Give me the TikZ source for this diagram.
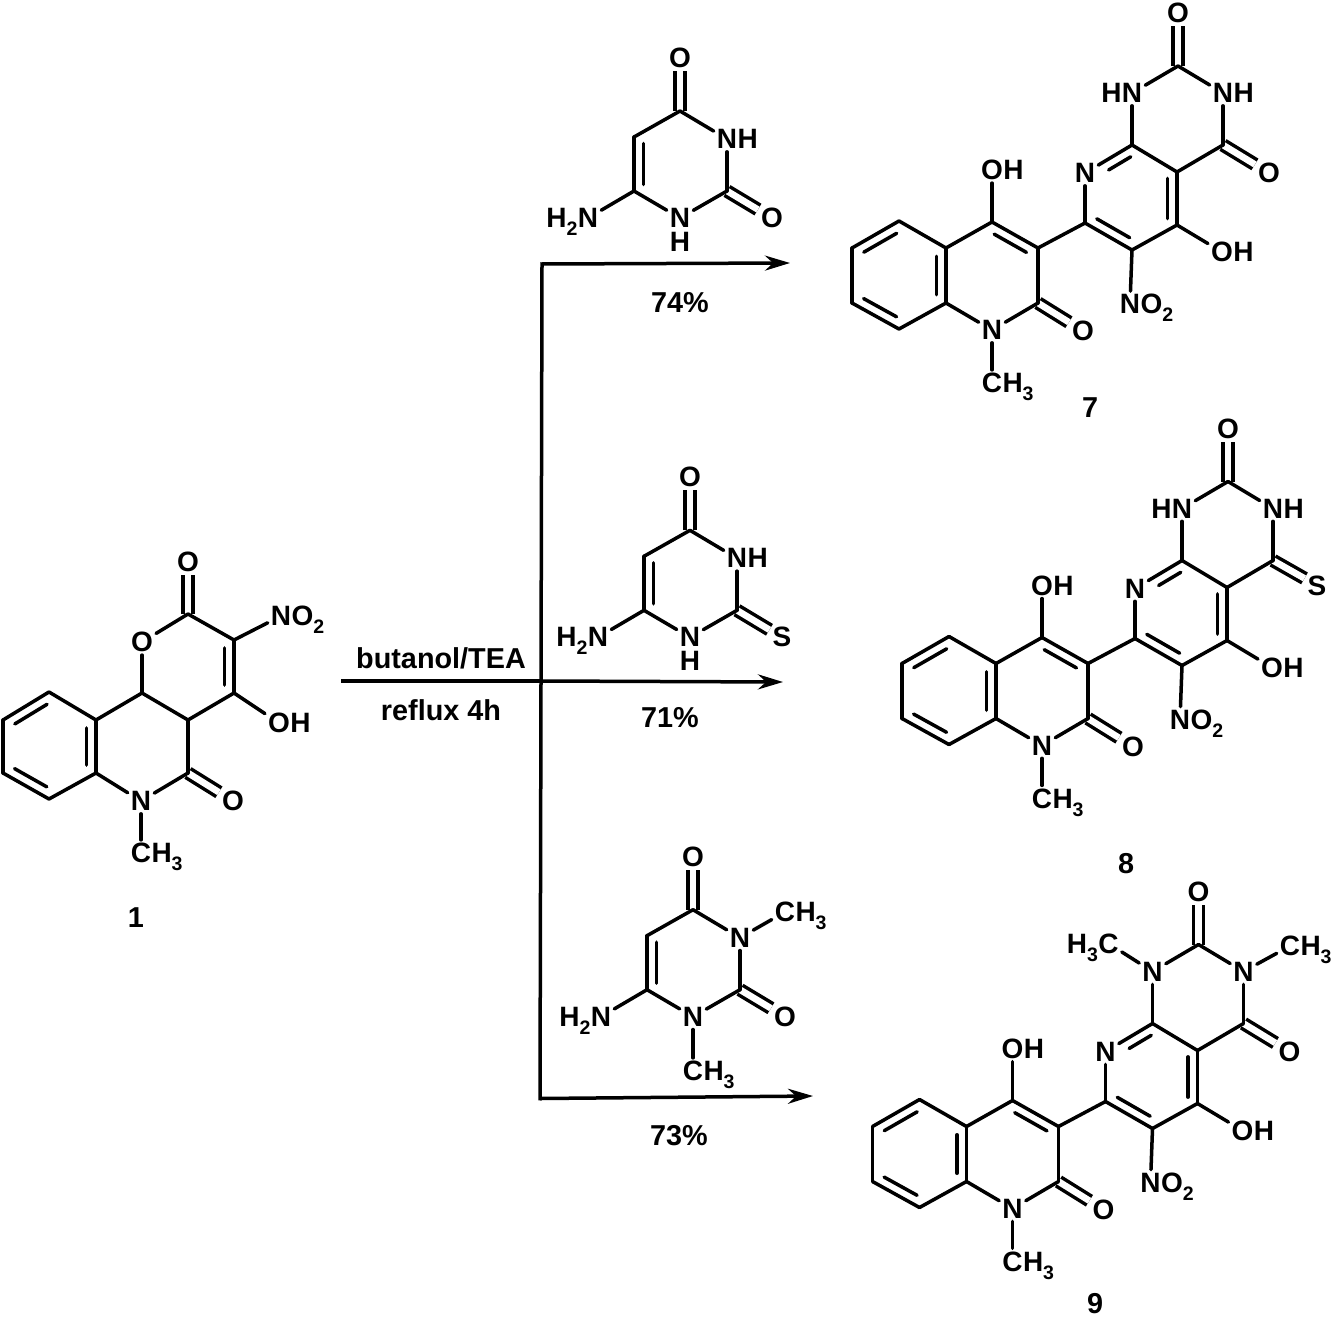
\documentclass[tikz,border=0pt]{standalone}
\usepackage{fontspec}
\setmainfont{Liberation Sans}
\usetikzlibrary{calc,arrows.meta}
\def\subs#1{\raisebox{-8pt}{\fontsize{19.5}{19.5}\selectfont #1}}
\begin{document}
\begin{tikzpicture}[x=1pt,y=-1pt,
    bond/.style={line width=3.5pt,line cap=round},
    dblbond/.style={line width=3.5pt,double,double distance=6.6pt},
    inner/.style={line width=3.5pt,line cap=round},
    atom/.style={inner sep=3pt,font=\fontsize{28}{30}\selectfont\bfseries},
    tailr/.style={inner sep=0pt,anchor=base west,xshift=-3pt,font=\fontsize{28}{30}\selectfont\bfseries},
    taill/.style={inner sep=0pt,anchor=base east,xshift=3pt,font=\fontsize{28}{30}\selectfont\bfseries},
    lab/.style={inner sep=0pt,font=\fontsize{28.8}{30}\selectfont\bfseries},
    rxn/.style={line width=3.5pt},
    rxnarrow/.style={line width=3.5pt,-{Stealth[length=25pt,width=15pt]}}]
  \useasboundingbox (0,0) rectangle (1335,1319);
  % compound 1
  \def\ringa{(49,692),(96,720),(96,773),(49,799),(3,773),(3,720),(142,693),(188,614),(234,640),(234,693),(188,720),(188,773)}
  %         1        2        3        4       5       6       7         8         9         10        11        12
  \foreach \u [count=\i from 1] in \ringa {\path \u coordinate (c\i);}
  \foreach \x/\y/\txt/\nm in {142/642/O/o1,188/562/O/o2,281/616/N/n1,279/723/O/o3,233/801/O/o4,141/801/N/n2,141/853/C/me}
    {\node[atom] (\nm) at (\x,\y) {\txt};}
  \node[tailr] (n1t) at (n1.base east) {O\subs{2}};
  \node[tailr] (o3t) at (o3.base east) {H};
  \node[tailr] (met) at (me.base east) {H\subs{3}};
  \draw[dblbond] (c8)--(o2);
  \draw[dblbond] (c12)--(o4);
  \foreach \a/\b in {c1/c2,c2/c3,c3/c4,c4/c5,c5/c6,c6/c1,c2/c7,c7/o1,o1/c8,c8/c9,c9/c10,c10/c11,c11/c7,c11/c12,c12/n2,n2/c3,c9/n1,c10/o3,n2/me}
    {\draw[bond] (\a)--(\b);}
  \foreach \a/\b in {c6/c1,c2/c3,c4/c5,c9/c10}
    {\draw[inner] ($(\a)!.15!(\b)!9.5pt!-90:(\b)$)--($(\a)!.85!(\b)!9.5pt!-90:(\b)$);}
  \node[lab] (lab1) at (136,918) {1};
  % uracils
  \foreach \m/\sx/\sy/\xa in {7/0/0/O,8/10/419.3/S,9/13/798.7/O} {
    \begin{scope}[shift={(\sx,\sy)}]
      \foreach \u [count=\i from 1] in {(680,111),(727,191),(634,191),(634,137)} {\path \u coordinate (u\m c\i);}
      \foreach \x/\y/\txt/\nm in {680/58/O/o1,727/139/N/n3,772/218/\xa/x,680/218/N/n1,588/218/N/na}
        {\node[atom] (u\m\nm) at (\x,\y) {\txt};}
    \end{scope}
    \node[taill] (u\m nat) at (u\m na.base west) {H\subs{2}};
    \draw[dblbond] (u\m c1)--(u\m o1);
    \draw[dblbond] (u\m c2)--(u\m x);
    \foreach \a/\b in {c1/n3,n3/c2,c2/n1,n1/c3,c3/c4,c4/c1,c3/na}
      {\draw[bond] (u\m\a)--(u\m\b);}
    \draw[inner] ($(u\m c3)!.12!(u\m c4)!9.5pt!-90:(u\m c4)$)--($(u\m c3)!.88!(u\m c4)!9.5pt!-90:(u\m c4)$);
  }
  \foreach \m in {7,8} {
    \node[tailr] (u\m n3t) at (u\m n3.base east) {H};
    \node[atom,inner sep=0pt] (u\m h) at ([yshift=-24pt]u\m n1) {H};
  }
  \node[atom] (u9me3) at (785,912) {C};
  \node[tailr] (u9me3t) at (u9me3.base east) {H\subs{3}};
  \node[atom] (u9me1) at (693,1071) {C};
  \node[tailr] (u9me1t) at (u9me1.base east) {H\subs{3}};
  \draw[bond] (u9n3)--(u9me3);
  \draw[bond] (u9n1)--(u9me1);
  % products
  \def\ringp{(899,221),(946,248),(946,303),(899,329),(852,303),(852,248),(992,222),(1038,248),(1038,303),(1085,223),(1132,250),(1177,225),(1177,172),(1132,145),(1223,145),(1178,66)}
  %         1         2         3         4         5         6         7         8          9          10         11         12         13         14         15         16
  \foreach \m/\sx/\sy/\xa/\xx/\xy in {7/0/0/O/1269/173,8/50/415.5/S/1267/170,9/20.5/878.5/O/1269/173} {
    \begin{scope}[shift={(\sx,\sy)}]
      \foreach \u [count=\i from 1] in \ringp {\path \u coordinate (p\m c\i);}
      \foreach \x/\y/\txt/\nm in {992/170/O/o1,992/330/N/n1,1083/331/O/o2,992/383/C/me,1085/173/N/n2,1222/252/O/o3,1130/304/N/n3,1132/93/N/n4,1223/93/N/n5,1178/13/O/o5,\xx/\xy/\xa/x}
        {\node[atom] (p\m\nm) at (\x,\y) {\txt};}
    \end{scope}
    \node[tailr] (p\m o1t) at (p\m o1.base east) {H};
    \node[tailr] (p\m o3t) at (p\m o3.base east) {H};
    \node[tailr] (p\m met) at (p\m me.base east) {H\subs{3}};
    \node[tailr] (p\m n3t) at (p\m n3.base east) {O\subs{2}};
    \draw[dblbond] (p\m c9)--(p\m o2);
    \draw[dblbond] (p\m c15)--(p\m x);
    \draw[dblbond] (p\m c16)--(p\m o5);
    \foreach \a/\b in {c1/c2,c2/c3,c3/c4,c4/c5,c5/c6,c6/c1,c2/c7,c7/c8,c8/c9,c9/n1,n1/c3,c7/o1,n1/me,c8/c10,c10/n2,n2/c14,c14/c13,c13/c12,c12/c11,c11/c10,c12/o3,c11/n3,c14/n4,n4/c16,c16/n5,n5/c15,c15/c13}
      {\draw[bond] (p\m\a)--(p\m\b);}
    \foreach \a/\b/\s/\e in {c6/c1/.15/.85,c2/c3/.15/.85,c4/c5/.15/.85,c7/c8/.15/.85,n2/c14/.4/.87,c13/c12/.12/.88,c11/c10/.15/.85}
      {\draw[inner] ($(p\m\a)!\s!(p\m\b)!9.5pt!-90:(p\m\b)$)--($(p\m\a)!\e!(p\m\b)!9.5pt!-90:(p\m\b)$);}
  }
  \foreach \m in {7,8} {
    \node[taill] (p\m n4t) at (p\m n4.base west) {H};
    \node[tailr] (p\m n5t) at (p\m n5.base east) {H};
  }
  \node[atom] (p9me4) at (1108.5,943.5) {C};
  \node[taill] (p9me4t) at (p9me4.base west) {H\subs{3}};
  \node[atom] (p9me5) at (1290,946) {C};
  \node[tailr] (p9me5t) at (p9me5.base east) {H\subs{3}};
  \draw[bond] (p9n4)--(p9me4);
  \draw[bond] (p9n5)--(p9me5);
  % labels and reaction arrows
  \node[lab] (lab7) at (1090,408) {7};
  \node[lab] (lab8) at (1126,864) {8};
  \node[lab] (lab9) at (1095,1304) {9};
  \node[lab] (solv) at (441,658) {butanol/TEA};
  \node[lab] (cond) at (441,710) {reflux 4h};
  \node[lab] (y7) at (680,303) {74\%};
  \node[lab] (y8) at (670,718) {71\%};
  \node[lab] (y9) at (679,1136) {73\%};
  \coordinate (start) at (341,681);
  \coordinate (jtop) at (542,264);
  \coordinate (jmid) at (541,681);
  \coordinate (jbot) at (540,1098.5);
  \coordinate (tip7) at (790,263);
  \coordinate (tip8) at (783,682);
  \coordinate (tip9) at (813,1096);
  \draw[rxn] (start)--(jmid);
  \draw[rxn,line cap=rect] (jtop)--(jbot);
  \draw[rxnarrow] (jtop)--(tip7);
  \draw[rxnarrow] (jmid)--(tip8);
  \draw[rxnarrow] (jbot)--(tip9);
\end{tikzpicture}
\end{document}
